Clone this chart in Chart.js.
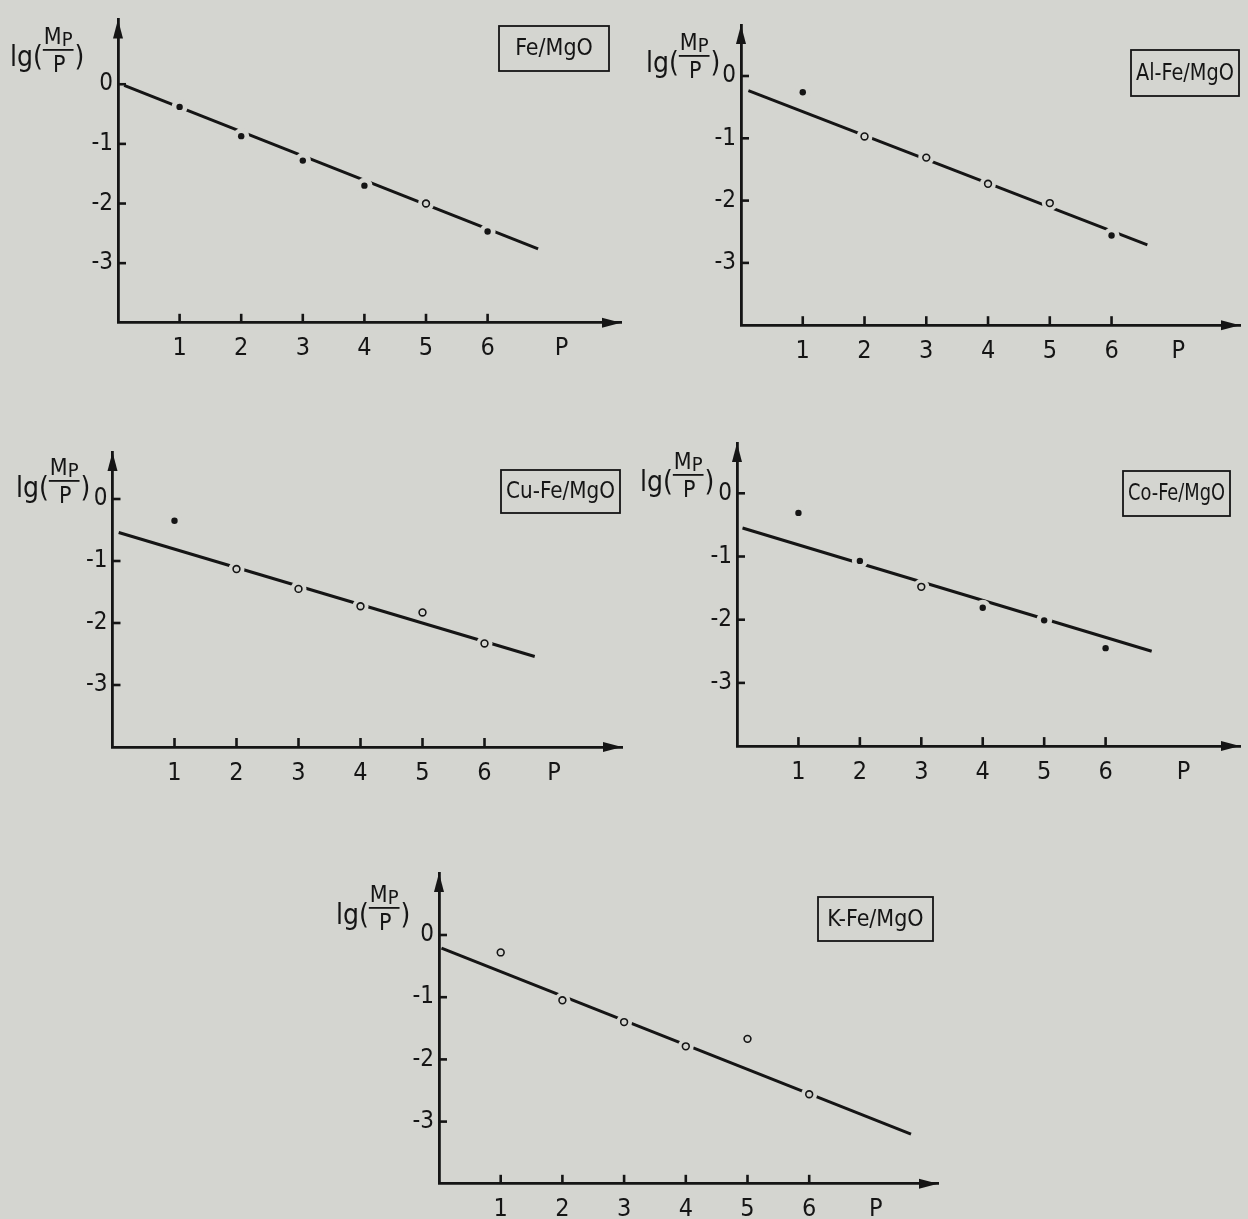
<!DOCTYPE html>
<html>
<head>
<meta charset="utf-8">
<script src="https://cdn.jsdelivr.net/npm/chart.js@4.4.0/dist/chart.umd.min.js"></script>
<style>
html, body { margin: 0; padding: 0; background: #d4d5d0; }
#wrap { position: relative; width: 1248px; height: 1219px; overflow: hidden; }
canvas { position: absolute; left: 0; top: 0; }
</style>
</head>
<body>
<div id="wrap">
<canvas id="fe" width="1248" height="1219"></canvas>
<canvas id="al" width="1248" height="1219"></canvas>
<canvas id="cu" width="1248" height="1219"></canvas>
<canvas id="co" width="1248" height="1219"></canvas>
<canvas id="k" width="1248" height="1219"></canvas>
</div>
<script>
// P values (x axis) and y tick values, shared by all five plots
var pValues = [1, 2, 3, 4, 5, 6];
var yTicks = [0, -1, -2, -3];

// lg(Mp/P), plus the ends of the fitted line
var feLg = [-0.38, -0.87, -1.28, -1.70, -2.00, -2.47];
var feFitP = [0.1, 6.82];
var feFitLg = [-0.02, -2.76];

var alLg = [-0.26, -0.97, -1.31, -1.73, -2.04, -2.56];
var alFitP = [0.12, 6.58];
var alFitLg = [-0.235, -2.71];

var cuLg = [-0.35, -1.13, -1.45, -1.73, -1.83, -2.33];
var cuFitP = [0.1, 6.81];
var cuFitLg = [-0.54, -2.54];

var coLg = [-0.31, -1.07, -1.48, -1.81, -2.01, -2.45];
var coFitP = [0.09, 6.75];
var coFitLg = [-0.55, -2.50];

var kLg = [-0.28, -1.05, -1.40, -1.79, -1.67, -2.56];
var kFitP = [0.04, 7.65];
var kFitLg = [-0.21, -3.20];

var INK = '#151515';
var BG = '#d4d5d0';
var FONT = "'DejaVu Sans Condensed', 'DejaVu Sans', sans-serif";
var W = 1248, H = 1219;

function pts(xs, ys) {
    return xs.map(function(x, i) { return { x: x, y: ys[i] }; });
}

function drawYTitle(ctx, x, base) {
    ctx.fillStyle = INK;
    ctx.textAlign = 'left';
    ctx.textBaseline = 'alphabetic';
    ctx.font = '28px ' + FONT;
    ctx.fillText('lg(', x, base);
    var fx = x + ctx.measureText('lg(').width + 1;
    ctx.font = '23px ' + FONT;
    var wm = ctx.measureText('M').width;
    ctx.fillText('M', fx, base - 22);
    ctx.font = '20px ' + FONT;
    var wp = ctx.measureText('P').width;
    ctx.fillText('P', fx + wm, base - 20);
    var fw = wm + wp + 2;
    ctx.fillRect(fx - 1, base - 17, fw, 1.8);
    ctx.font = '23px ' + FONT;
    var wd = ctx.measureText('P').width;
    ctx.fillText('P', fx + (fw - wd) / 2, base + 6);
    ctx.font = '28px ' + FONT;
    ctx.fillText(')', fx + fw, base);
}

function decor(panel) {
    return {
        id: 'decor',
        afterDraw: function(chart) {
            var ctx = chart.ctx;
            var a = chart.chartArea;
            var xs = chart.scales.x, ys = chart.scales.y;
            ctx.save();
            ctx.strokeStyle = INK;
            ctx.fillStyle = INK;
            ctx.lineWidth = 2.6;
            // tick marks inside the axes
            pValues.forEach(function(p) {
                var x = xs.getPixelForValue(p);
                ctx.beginPath();
                ctx.moveTo(x, a.bottom);
                ctx.lineTo(x, a.bottom - 9);
                ctx.stroke();
            });
            yTicks.forEach(function(v) {
                var y = ys.getPixelForValue(v);
                ctx.beginPath();
                ctx.moveTo(a.left, y);
                ctx.lineTo(a.left + 8, y);
                ctx.stroke();
            });
            // arrow heads
            ctx.beginPath();
            ctx.moveTo(a.left, a.top);
            ctx.lineTo(a.left - 5, a.top + 19);
            ctx.lineTo(a.left + 5, a.top + 19);
            ctx.closePath();
            ctx.fill();
            ctx.beginPath();
            ctx.moveTo(a.right, a.bottom);
            ctx.lineTo(a.right - 19, a.bottom - 5);
            ctx.lineTo(a.right - 19, a.bottom + 5);
            ctx.closePath();
            ctx.fill();
            // name box
            var b = panel.box;
            ctx.lineWidth = 1.8;
            ctx.strokeRect(b[0], b[1], b[2], b[3]);
            ctx.font = '23px ' + FONT;
            ctx.textAlign = 'center';
            ctx.textBaseline = 'middle';
            var tw = ctx.measureText(panel.name).width;
            var sx = Math.min(1, (b[2] - 10) / tw);
            ctx.save();
            ctx.translate(b[0] + b[2] / 2, b[1] + b[3] / 2 + 1);
            ctx.scale(sx, 1);
            ctx.fillText(panel.name, 0, 0);
            ctx.restore();
            drawYTitle(ctx, panel.titleX, panel.titleBase);
            ctx.restore();
        }
    };
}

function makePanel(id, panel) {
    var bottom = panel.zeroY + 4 * panel.yUnit;
    var xMax = (panel.right - panel.axisX) / panel.xUnit;
    var yMax = (panel.zeroY - panel.top) / panel.yUnit;
    var marks = pts(pValues, panel.lg);
    function isOpen(c) { return panel.open.indexOf(c.dataIndex) >= 0; }

    return new Chart(document.getElementById(id), {
        type: 'scatter',
        data: {
            datasets: [
                {
                    data: pts(panel.fitP, panel.fitLg),
                    showLine: true,
                    borderColor: INK,
                    borderWidth: 3,
                    pointRadius: 0,
                    order: 3
                },
                {
                    // background-coloured halo: breaks the line around each point
                    data: marks,
                    pointRadius: 8,
                    backgroundColor: BG,
                    borderWidth: 0,
                    order: 2
                },
                {
                    data: marks,
                    pointRadius: function(c) { return isOpen(c) ? 3.4 : 3.2; },
                    backgroundColor: function(c) { return isOpen(c) ? BG : INK; },
                    borderColor: INK,
                    borderWidth: function(c) { return isOpen(c) ? 1.6 : 0; },
                    order: 1
                }
            ]
        },
        options: {
            responsive: false,
            animation: false,
            devicePixelRatio: 1,
            events: [],
            layout: { padding: { left: 0, top: panel.top, right: W - panel.right, bottom: 0 } },
            plugins: { legend: { display: false }, tooltip: { enabled: false } },
            scales: {
                x: {
                    type: 'linear',
                    min: 0,
                    max: xMax,
                    grid: { display: false, drawTicks: false },
                    border: { display: true, color: INK, width: 2.8 },
                    afterBuildTicks: function(s) {
                        s.ticks = pValues.map(function(v) { return { value: v }; }).concat([{ value: panel.pAt }]);
                    },
                    afterFit: function(s) { s.height = H - bottom; },
                    ticks: {
                        autoSkip: false,
                        maxRotation: 0,
                        padding: 11,
                        color: INK,
                        font: { family: FONT, size: 25 },
                        callback: function(v, i) { return i === pValues.length ? 'P' : String(v); }
                    }
                },
                y: {
                    type: 'linear',
                    min: -4,
                    max: yMax,
                    grid: { display: false, drawTicks: false },
                    border: { display: true, color: INK, width: 2.8 },
                    afterBuildTicks: function(s) {
                        s.ticks = yTicks.map(function(v) { return { value: v }; });
                    },
                    afterFit: function(s) { s.width = panel.axisX; },
                    ticks: {
                        padding: 5,
                        color: INK,
                        font: { family: FONT, size: 24 },
                        callback: function(v) { return String(v); }
                    }
                }
            }
        },
        plugins: [decor(panel)]
    });
}

makePanel('fe', {
    name: 'Fe/MgO', lg: feLg, fitP: feFitP, fitLg: feFitLg, open: [4],
    axisX: 118, zeroY: 80, xUnit: 61.6, yUnit: 60.7, right: 621, top: 14, pAt: 7.2,
    box: [499, 26, 110, 45], titleX: 10, titleBase: 66
});
makePanel('al', {
    name: 'Al-Fe/MgO', lg: alLg, fitP: alFitP, fitLg: alFitLg, open: [1, 2, 3, 4],
    axisX: 741, zeroY: 76, xUnit: 62.5, yUnit: 62.3, right: 1246, top: 25, pAt: 7.08,
    box: [1131, 50, 108, 46], titleX: 646, titleBase: 72
});
makePanel('cu', {
    name: 'Cu-Fe/MgO', lg: cuLg, fitP: cuFitP, fitLg: cuFitLg, open: [1, 2, 3, 4, 5],
    axisX: 112.5, zeroY: 499, xUnit: 62, yUnit: 62, right: 622, top: 452, pAt: 7.12,
    box: [501, 470, 119, 43], titleX: 16, titleBase: 497
});
makePanel('co', {
    name: 'Co-Fe/MgO', lg: coLg, fitP: coFitP, fitLg: coFitLg, open: [2],
    axisX: 737, zeroY: 493.3, xUnit: 61.8, yUnit: 63.2, right: 1243, top: 443, pAt: 7.27,
    box: [1123, 471, 107, 45], titleX: 640, titleBase: 491
});
makePanel('k', {
    name: 'K-Fe/MgO', lg: kLg, fitP: kFitP, fitLg: kFitLg, open: [0, 1, 2, 3, 4, 5],
    axisX: 439, zeroY: 935, xUnit: 61.7, yUnit: 62.2, right: 938, top: 873, pAt: 7.08,
    box: [818, 897, 115, 44], titleX: 336, titleBase: 924
});
</script>
</body>
</html>
